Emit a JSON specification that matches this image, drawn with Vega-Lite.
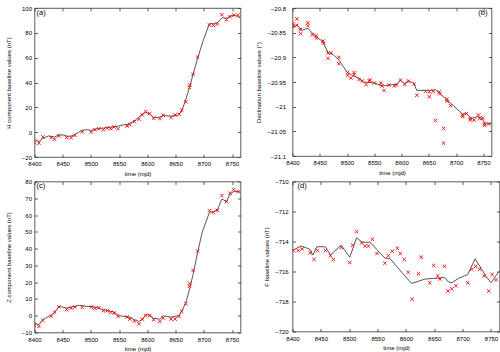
{
  "$schema": "https://vega.github.io/schema/vega-lite/v6.json",
  "padding": {"left": 4.5, "top": 4, "right": 2, "bottom": 0},
  "config": {
    "font": "Liberation Sans",
    "view": {"stroke": "#333", "strokeWidth": 0.8},
    "axis": {"labelFont": "Liberation Sans", "titleFont": "Liberation Sans", "labelFontSize": 6, "titleFontSize": 6, "titleFontWeight": "normal", "labelColor": "#000", "titleColor": "#000", "tickColor": "#333", "tickSize": -3, "tickWidth": 0.8, "domain": false, "grid": false, "labelFlush": false, "labelOverlap": false},
    "title": {"font": "Liberation Sans", "fontSize": 7.5, "fontWeight": "normal", "color": "#000", "frame": "group", "offset": -11}
  },
  "datasets": {
    "H_obs": [
      {"mjd": 8400, "value": -8.4}, {"mjd": 8407.7, "value": -8.9}, {"mjd": 8414.8, "value": -3.8}, {"mjd": 8429.6, "value": -4.4}, {"mjd": 8435.5, "value": -5.7}, {"mjd": 8443, "value": -3}, {"mjd": 8457, "value": -4.4}, {"mjd": 8465, "value": -4.4}, {"mjd": 8471.6, "value": -2.5}, {"mjd": 8484.6, "value": 0.4}, {"mjd": 8500.6, "value": 0.1}, {"mjd": 8507, "value": 2}, {"mjd": 8514, "value": 2.8}, {"mjd": 8522, "value": 2}, {"mjd": 8529, "value": 3.3}, {"mjd": 8535, "value": 2.8}, {"mjd": 8541, "value": 4.1}, {"mjd": 8548, "value": 2.8}, {"mjd": 8564, "value": 5}, {"mjd": 8569, "value": 6.1}, {"mjd": 8577, "value": 8.5}, {"mjd": 8585, "value": 10.4}, {"mjd": 8591, "value": 13.9}, {"mjd": 8597, "value": 16.6}, {"mjd": 8604, "value": 15}, {"mjd": 8611, "value": 11.2}, {"mjd": 8622, "value": 10.9}, {"mjd": 8628, "value": 13.6}, {"mjd": 8642, "value": 11.8}, {"mjd": 8649, "value": 13.9}, {"mjd": 8656, "value": 14.4}, {"mjd": 8661, "value": 17.7}, {"mjd": 8668, "value": 24.4}, {"mjd": 8674.5, "value": 36}, {"mjd": 8675, "value": 38}, {"mjd": 8681, "value": 46.6}, {"mjd": 8689, "value": 60.5}, {"mjd": 8710, "value": 86.3}, {"mjd": 8717, "value": 86}, {"mjd": 8724, "value": 87.1}, {"mjd": 8732, "value": 94.6}, {"mjd": 8740, "value": 90.6}, {"mjd": 8746.5, "value": 93}, {"mjd": 8753, "value": 94.3}, {"mjd": 8760.7, "value": 94.1}
    ],
    "H_fit": [
      {"mjd": 8400, "value": -5.7}, {"mjd": 8408, "value": -7.6}, {"mjd": 8415, "value": -5}, {"mjd": 8425, "value": -3}, {"mjd": 8435, "value": -3.9}, {"mjd": 8443, "value": -2.3}, {"mjd": 8452, "value": -2.3}, {"mjd": 8459, "value": -3.4}, {"mjd": 8466, "value": -3}, {"mjd": 8474, "value": -1.3}, {"mjd": 8484, "value": 1.4}, {"mjd": 8493, "value": 2}, {"mjd": 8500, "value": 1.4}, {"mjd": 8511, "value": 2.8}, {"mjd": 8522, "value": 3.3}, {"mjd": 8535, "value": 4.1}, {"mjd": 8546, "value": 4.6}, {"mjd": 8555, "value": 5.7}, {"mjd": 8564, "value": 6.2}, {"mjd": 8573, "value": 8}, {"mjd": 8582, "value": 10.7}, {"mjd": 8591, "value": 14.7}, {"mjd": 8597, "value": 16}, {"mjd": 8604, "value": 14.7}, {"mjd": 8611, "value": 12}, {"mjd": 8620, "value": 11.8}, {"mjd": 8628, "value": 13.4}, {"mjd": 8641, "value": 12.9}, {"mjd": 8653, "value": 13.4}, {"mjd": 8660, "value": 16.3}, {"mjd": 8666, "value": 23.5}, {"mjd": 8674, "value": 35}, {"mjd": 8681, "value": 46.6}, {"mjd": 8689, "value": 59.4}, {"mjd": 8699, "value": 73.9}, {"mjd": 8710, "value": 87.4}, {"mjd": 8717, "value": 87.4}, {"mjd": 8724, "value": 88.2}, {"mjd": 8733, "value": 92.2}, {"mjd": 8740, "value": 91.7}, {"mjd": 8747, "value": 93.5}, {"mjd": 8754, "value": 94.1}, {"mjd": 8760, "value": 93.5}, {"mjd": 8765, "value": 91.7}
    ],
    "D_obs": [
      {"mjd": 8400.6, "value": -20.832}, {"mjd": 8400.6, "value": -20.837}, {"mjd": 8408, "value": -20.822}, {"mjd": 8408, "value": -20.835}, {"mjd": 8414, "value": -20.844}, {"mjd": 8415, "value": -20.852}, {"mjd": 8428, "value": -20.83}, {"mjd": 8428, "value": -20.836}, {"mjd": 8436, "value": -20.854}, {"mjd": 8443, "value": -20.856}, {"mjd": 8444, "value": -20.861}, {"mjd": 8456, "value": -20.867}, {"mjd": 8457, "value": -20.871}, {"mjd": 8465, "value": -20.891}, {"mjd": 8465, "value": -20.902}, {"mjd": 8471, "value": -20.891}, {"mjd": 8485, "value": -20.9}, {"mjd": 8485, "value": -20.913}, {"mjd": 8501, "value": -20.931}, {"mjd": 8501, "value": -20.936}, {"mjd": 8507, "value": -20.942}, {"mjd": 8513, "value": -20.931}, {"mjd": 8513, "value": -20.935}, {"mjd": 8522, "value": -20.945}, {"mjd": 8528, "value": -20.948}, {"mjd": 8535, "value": -20.955}, {"mjd": 8541, "value": -20.948}, {"mjd": 8542, "value": -20.946}, {"mjd": 8550, "value": -20.952}, {"mjd": 8562, "value": -20.952}, {"mjd": 8564, "value": -20.958}, {"mjd": 8568, "value": -20.967}, {"mjd": 8577, "value": -20.956}, {"mjd": 8587, "value": -20.958}, {"mjd": 8591, "value": -20.956}, {"mjd": 8598, "value": -20.946}, {"mjd": 8606, "value": -20.955}, {"mjd": 8613, "value": -20.948}, {"mjd": 8623, "value": -20.954}, {"mjd": 8628, "value": -20.977}, {"mjd": 8644, "value": -20.969}, {"mjd": 8651, "value": -20.97}, {"mjd": 8651, "value": -20.98}, {"mjd": 8658, "value": -20.969}, {"mjd": 8662, "value": -21.028}, {"mjd": 8669, "value": -20.97}, {"mjd": 8670, "value": -20.974}, {"mjd": 8677, "value": -21.044}, {"mjd": 8677, "value": -21.074}, {"mjd": 8683, "value": -20.985}, {"mjd": 8684, "value": -20.989}, {"mjd": 8690, "value": -20.998}, {"mjd": 8712, "value": -21.017}, {"mjd": 8712, "value": -21.02}, {"mjd": 8719, "value": -21.014}, {"mjd": 8726, "value": -21.024}, {"mjd": 8726, "value": -21.027}, {"mjd": 8733, "value": -21.027}, {"mjd": 8741, "value": -21.017}, {"mjd": 8743, "value": -21.024}, {"mjd": 8749, "value": -21.023}, {"mjd": 8752, "value": -21.035}, {"mjd": 8752, "value": -21.038}, {"mjd": 8760, "value": -21.035}
    ],
    "D_fit": [
      {"mjd": 8400, "value": -20.84}, {"mjd": 8408, "value": -20.835}, {"mjd": 8418, "value": -20.845}, {"mjd": 8428, "value": -20.841}, {"mjd": 8440, "value": -20.855}, {"mjd": 8455, "value": -20.868}, {"mjd": 8465, "value": -20.89}, {"mjd": 8475, "value": -20.895}, {"mjd": 8485, "value": -20.905}, {"mjd": 8500, "value": -20.93}, {"mjd": 8510, "value": -20.937}, {"mjd": 8522, "value": -20.942}, {"mjd": 8530, "value": -20.95}, {"mjd": 8550, "value": -20.952}, {"mjd": 8565, "value": -20.958}, {"mjd": 8580, "value": -20.956}, {"mjd": 8590, "value": -20.955}, {"mjd": 8598, "value": -20.947}, {"mjd": 8605, "value": -20.953}, {"mjd": 8612, "value": -20.948}, {"mjd": 8622, "value": -20.952}, {"mjd": 8628, "value": -20.967}, {"mjd": 8650, "value": -20.967}, {"mjd": 8662, "value": -20.966}, {"mjd": 8670, "value": -20.973}, {"mjd": 8685, "value": -20.988}, {"mjd": 8700, "value": -21.003}, {"mjd": 8712, "value": -21.015}, {"mjd": 8718, "value": -21.013}, {"mjd": 8728, "value": -21.024}, {"mjd": 8740, "value": -21.02}, {"mjd": 8748, "value": -21.025}, {"mjd": 8754, "value": -21.035}, {"mjd": 8765, "value": -21.034}
    ],
    "Z_obs": [
      {"mjd": 8400, "value": -5.8}, {"mjd": 8407.7, "value": -6.4}, {"mjd": 8414.8, "value": -2.8}, {"mjd": 8429.6, "value": -0.4}, {"mjd": 8435.5, "value": 2.2}, {"mjd": 8443, "value": 5.2}, {"mjd": 8457, "value": 3.6}, {"mjd": 8465, "value": 4.6}, {"mjd": 8471.6, "value": 5.2}, {"mjd": 8484.6, "value": 5}, {"mjd": 8500.6, "value": 5.2}, {"mjd": 8507, "value": 4.4}, {"mjd": 8514, "value": 4.8}, {"mjd": 8522, "value": 3}, {"mjd": 8529, "value": 3}, {"mjd": 8535, "value": 2}, {"mjd": 8541, "value": 1.6}, {"mjd": 8548, "value": -0.4}, {"mjd": 8564, "value": -0.8}, {"mjd": 8569, "value": -2}, {"mjd": 8577, "value": -3.2}, {"mjd": 8585, "value": -4.8}, {"mjd": 8591, "value": -2}, {"mjd": 8597, "value": 0.2}, {"mjd": 8604, "value": 0}, {"mjd": 8611, "value": -2.4}, {"mjd": 8622, "value": -3.4}, {"mjd": 8628, "value": -1.4}, {"mjd": 8642, "value": -2}, {"mjd": 8649, "value": -2}, {"mjd": 8656, "value": -0.4}, {"mjd": 8661, "value": 2.6}, {"mjd": 8668, "value": 7.2}, {"mjd": 8674.5, "value": 17.6}, {"mjd": 8675, "value": 19.2}, {"mjd": 8681, "value": 27}, {"mjd": 8689, "value": 38.6}, {"mjd": 8710, "value": 62.6}, {"mjd": 8717, "value": 61.6}, {"mjd": 8724, "value": 62.8}, {"mjd": 8732, "value": 71.6}, {"mjd": 8740, "value": 68}, {"mjd": 8746.5, "value": 73}, {"mjd": 8753, "value": 75.2}, {"mjd": 8760.7, "value": 74}
    ],
    "Z_fit": [
      {"mjd": 8400, "value": -4.4}, {"mjd": 8407.7, "value": -5.4}, {"mjd": 8414.8, "value": -2.4}, {"mjd": 8422, "value": -1}, {"mjd": 8435.5, "value": 1.6}, {"mjd": 8443, "value": 5.6}, {"mjd": 8457, "value": 4.6}, {"mjd": 8471.6, "value": 5.6}, {"mjd": 8480, "value": 6.2}, {"mjd": 8492, "value": 5.6}, {"mjd": 8507, "value": 5.2}, {"mjd": 8522, "value": 3.6}, {"mjd": 8541, "value": 2.2}, {"mjd": 8550, "value": 0}, {"mjd": 8569, "value": -0.8}, {"mjd": 8577, "value": -2.4}, {"mjd": 8585, "value": -3.4}, {"mjd": 8591, "value": -2.4}, {"mjd": 8597, "value": 0.6}, {"mjd": 8604, "value": 0.4}, {"mjd": 8611, "value": -1.6}, {"mjd": 8622, "value": -2}, {"mjd": 8628, "value": 0}, {"mjd": 8642, "value": -0.8}, {"mjd": 8656, "value": 0}, {"mjd": 8661, "value": 3}, {"mjd": 8668, "value": 7.6}, {"mjd": 8674.5, "value": 15.6}, {"mjd": 8681, "value": 24.6}, {"mjd": 8689, "value": 37.6}, {"mjd": 8697, "value": 49.6}, {"mjd": 8710, "value": 61.6}, {"mjd": 8717, "value": 62}, {"mjd": 8724, "value": 63}, {"mjd": 8732, "value": 69.6}, {"mjd": 8740, "value": 68}, {"mjd": 8746.5, "value": 72.6}, {"mjd": 8753, "value": 74}, {"mjd": 8760.7, "value": 74}, {"mjd": 8765, "value": 73.6}
    ],
    "F_obs": [
      {"mjd": 8401.8, "value": -714.6}, {"mjd": 8410, "value": -714.6}, {"mjd": 8417, "value": -714.5}, {"mjd": 8431, "value": -714.75}, {"mjd": 8438, "value": -715.2}, {"mjd": 8444, "value": -714.6}, {"mjd": 8458, "value": -714.6}, {"mjd": 8467, "value": -714.95}, {"mjd": 8472, "value": -715.2}, {"mjd": 8486, "value": -714.4}, {"mjd": 8501, "value": -715.4}, {"mjd": 8506, "value": -714.25}, {"mjd": 8513, "value": -713.35}, {"mjd": 8522, "value": -714.1}, {"mjd": 8528, "value": -714.3}, {"mjd": 8534, "value": -714.3}, {"mjd": 8541, "value": -713.85}, {"mjd": 8549, "value": -714.8}, {"mjd": 8563, "value": -715.45}, {"mjd": 8569, "value": -714.95}, {"mjd": 8576, "value": -714.65}, {"mjd": 8585, "value": -714.45}, {"mjd": 8590, "value": -714.8}, {"mjd": 8597, "value": -715.2}, {"mjd": 8604, "value": -716.05}, {"mjd": 8611, "value": -717.85}, {"mjd": 8622, "value": -716.15}, {"mjd": 8627, "value": -715.05}, {"mjd": 8642, "value": -716.75}, {"mjd": 8649, "value": -715.6}, {"mjd": 8656, "value": -716.3}, {"mjd": 8660, "value": -716.5}, {"mjd": 8668, "value": -715.65}, {"mjd": 8674, "value": -717.3}, {"mjd": 8681, "value": -717.15}, {"mjd": 8688, "value": -716.95}, {"mjd": 8709, "value": -716.75}, {"mjd": 8716, "value": -715.85}, {"mjd": 8723, "value": -715.65}, {"mjd": 8730, "value": -715.85}, {"mjd": 8738, "value": -716.3}, {"mjd": 8746, "value": -717.3}, {"mjd": 8752, "value": -716.2}, {"mjd": 8759, "value": -716.55}
    ],
    "F_fit": [
      {"mjd": 8400, "value": -714.6}, {"mjd": 8415, "value": -714.3}, {"mjd": 8430, "value": -714.5}, {"mjd": 8436, "value": -714.9}, {"mjd": 8443, "value": -714.35}, {"mjd": 8458, "value": -714.35}, {"mjd": 8467, "value": -714.9}, {"mjd": 8486, "value": -714.25}, {"mjd": 8501, "value": -715.05}, {"mjd": 8513, "value": -713.75}, {"mjd": 8523, "value": -714.05}, {"mjd": 8537, "value": -714.05}, {"mjd": 8549, "value": -714.55}, {"mjd": 8563, "value": -715.1}, {"mjd": 8572, "value": -715.15}, {"mjd": 8610, "value": -716.8}, {"mjd": 8634, "value": -716.5}, {"mjd": 8654, "value": -716.45}, {"mjd": 8668, "value": -716.4}, {"mjd": 8675, "value": -716.7}, {"mjd": 8681, "value": -716.75}, {"mjd": 8693, "value": -716.45}, {"mjd": 8709, "value": -716.2}, {"mjd": 8722, "value": -715.15}, {"mjd": 8740, "value": -716.25}, {"mjd": 8750, "value": -716.75}, {"mjd": 8763, "value": -716.05}
    ]
  },
  "columns": 2,
  "spacing": {"row": 0.5, "column": 13},
  "concat": [
    {
      "width": 206, "height": 149,
      "title": {"text": "(a)", "anchor": "start", "dx": 2},
      "layer": [
        {"data": {"name": "H_fit"}, "mark": {"type": "line", "color": "#444", "strokeWidth": 0.9, "clip": true},
          "encoding": {
            "x": {"field": "mjd", "type": "quantitative", "scale": {"domain": [8400, 8765], "nice": false, "zero": false}, "axis": {"orient": "bottom", "values": [8400, 8450, 8500, 8550, 8600, 8650, 8700, 8750], "format": "d", "labelPadding": 6.5, "minExtent": 10, "maxExtent": 10, "titlePadding": 3, "title": "time (mjd)"}},
            "y": {"field": "value", "type": "quantitative", "scale": {"domain": [-20, 100], "nice": false, "zero": false}, "axis": {"orient": "left", "values": [-20, 0, 20, 40, 60, 80, 100], "labelPadding": 6, "minExtent": 14.5, "maxExtent": 14.5, "titlePadding": 9, "title": "H component baseline values (nT)"}}
          }},
        {"data": {"name": "H_obs"}, "mark": {"type": "point", "shape": "M-1,-1L1,1M-1,1L1,-1", "filled": false, "stroke": "#ff0000", "strokeWidth": 0.9, "size": 12, "opacity": 1, "clip": true},
          "encoding": {
            "x": {"field": "mjd", "type": "quantitative", "axis": {"orient": "top", "values": [8400, 8450, 8500, 8550, 8600, 8650, 8700, 8750], "labels": false, "title": null, "minExtent": 0, "maxExtent": 0}},
            "y": {"field": "value", "type": "quantitative", "axis": {"orient": "right", "values": [-20, 0, 20, 40, 60, 80, 100], "labels": false, "title": null, "minExtent": 0, "maxExtent": 0}}
          }}
      ],
      "resolve": {"axis": {"x": "independent", "y": "independent"}}
    },
    {
      "width": 199, "height": 148,
      "title": {"text": "(b)", "anchor": "end", "dx": -4},
      "layer": [
        {"data": {"name": "D_fit"}, "mark": {"type": "line", "color": "#444", "strokeWidth": 0.9, "clip": true},
          "encoding": {
            "x": {"field": "mjd", "type": "quantitative", "scale": {"domain": [8400, 8765], "nice": false, "zero": false}, "axis": {"orient": "bottom", "values": [8400, 8450, 8500, 8550, 8600, 8650, 8700, 8750], "format": "d", "labelPadding": 6.5, "minExtent": 10, "maxExtent": 10, "titlePadding": 3, "title": "time (mjd)"}},
            "y": {"field": "value", "type": "quantitative", "scale": {"domain": [-21.1, -20.8], "nice": false, "zero": false}, "axis": {"orient": "left", "values": [-21.1, -21.05, -21, -20.95, -20.9, -20.85, -20.8], "format": "~f", "labelPadding": 10, "minExtent": 22, "maxExtent": 22, "titlePadding": 8.7, "title": "Declination baseline values (°)"}}
          }},
        {"data": {"name": "D_obs"}, "mark": {"type": "point", "shape": "M-1,-1L1,1M-1,1L1,-1", "filled": false, "stroke": "#ff0000", "strokeWidth": 0.9, "size": 12, "opacity": 1, "clip": true},
          "encoding": {
            "x": {"field": "mjd", "type": "quantitative", "axis": {"orient": "top", "values": [8400, 8450, 8500, 8550, 8600, 8650, 8700, 8750], "labels": false, "title": null, "minExtent": 0, "maxExtent": 0}},
            "y": {"field": "value", "type": "quantitative", "axis": {"orient": "right", "values": [-21.1, -21.05, -21, -20.95, -20.9, -20.85, -20.8], "labels": false, "title": null, "minExtent": 0, "maxExtent": 0}}
          }}
      ],
      "resolve": {"axis": {"x": "independent", "y": "independent"}}
    },
    {
      "width": 206, "height": 151,
      "title": {"text": "(c)", "anchor": "start", "dx": 2},
      "layer": [
        {"data": {"name": "Z_fit"}, "mark": {"type": "line", "color": "#444", "strokeWidth": 0.9, "clip": true},
          "encoding": {
            "x": {"field": "mjd", "type": "quantitative", "scale": {"domain": [8400, 8765], "nice": false, "zero": false}, "axis": {"orient": "bottom", "values": [8400, 8450, 8500, 8550, 8600, 8650, 8700, 8750], "format": "d", "labelPadding": 6.5, "minExtent": 10, "maxExtent": 10, "titlePadding": 3, "title": "time (mjd)"}},
            "y": {"field": "value", "type": "quantitative", "scale": {"domain": [-10, 80], "nice": false, "zero": false}, "axis": {"orient": "left", "values": [-10, 0, 10, 20, 30, 40, 50, 60, 70, 80], "labelPadding": 6, "minExtent": 14.5, "maxExtent": 14.5, "titlePadding": 9, "title": "Z component baseline values (nT)"}}
          }},
        {"data": {"name": "Z_obs"}, "mark": {"type": "point", "shape": "M-1,-1L1,1M-1,1L1,-1", "filled": false, "stroke": "#ff0000", "strokeWidth": 0.9, "size": 12, "opacity": 1, "clip": true},
          "encoding": {
            "x": {"field": "mjd", "type": "quantitative", "axis": {"orient": "top", "values": [8400, 8450, 8500, 8550, 8600, 8650, 8700, 8750], "labels": false, "title": null, "minExtent": 0, "maxExtent": 0}},
            "y": {"field": "value", "type": "quantitative", "axis": {"orient": "right", "values": [-10, 0, 10, 20, 30, 40, 50, 60, 70, 80], "labels": false, "title": null, "minExtent": 0, "maxExtent": 0}}
          }}
      ],
      "resolve": {"axis": {"x": "independent", "y": "independent"}}
    },
    {
      "width": 207, "height": 150,
      "title": {"text": "(d)", "anchor": "start", "dx": 5},
      "layer": [
        {"data": {"name": "F_fit"}, "mark": {"type": "line", "color": "#444", "strokeWidth": 0.9, "clip": true},
          "encoding": {
            "x": {"field": "mjd", "type": "quantitative", "scale": {"domain": [8400, 8765], "nice": false, "zero": false}, "axis": {"orient": "bottom", "values": [8400, 8450, 8500, 8550, 8600, 8650, 8700, 8750], "format": "d", "labelPadding": 6.5, "minExtent": 10, "maxExtent": 10, "titlePadding": 3, "title": "time (mjd)"}},
            "y": {"field": "value", "type": "quantitative", "scale": {"domain": [-720, -710], "nice": false, "zero": false}, "axis": {"orient": "left", "values": [-720, -718, -716, -714, -712, -710], "labelPadding": 7.3, "minExtent": 16, "maxExtent": 16, "titlePadding": 7, "title": "F baseline values (nT)"}}
          }},
        {"data": {"name": "F_obs"}, "mark": {"type": "point", "shape": "M-1,-1L1,1M-1,1L1,-1", "filled": false, "stroke": "#ff0000", "strokeWidth": 0.9, "size": 12, "opacity": 1, "clip": true},
          "encoding": {
            "x": {"field": "mjd", "type": "quantitative", "axis": {"orient": "top", "values": [8400, 8450, 8500, 8550, 8600, 8650, 8700, 8750], "labels": false, "title": null, "minExtent": 0, "maxExtent": 0}},
            "y": {"field": "value", "type": "quantitative", "axis": {"orient": "right", "values": [-720, -718, -716, -714, -712, -710], "labels": false, "title": null, "minExtent": 0, "maxExtent": 0}}
          }}
      ],
      "resolve": {"axis": {"x": "independent", "y": "independent"}}
    }
  ]
}
